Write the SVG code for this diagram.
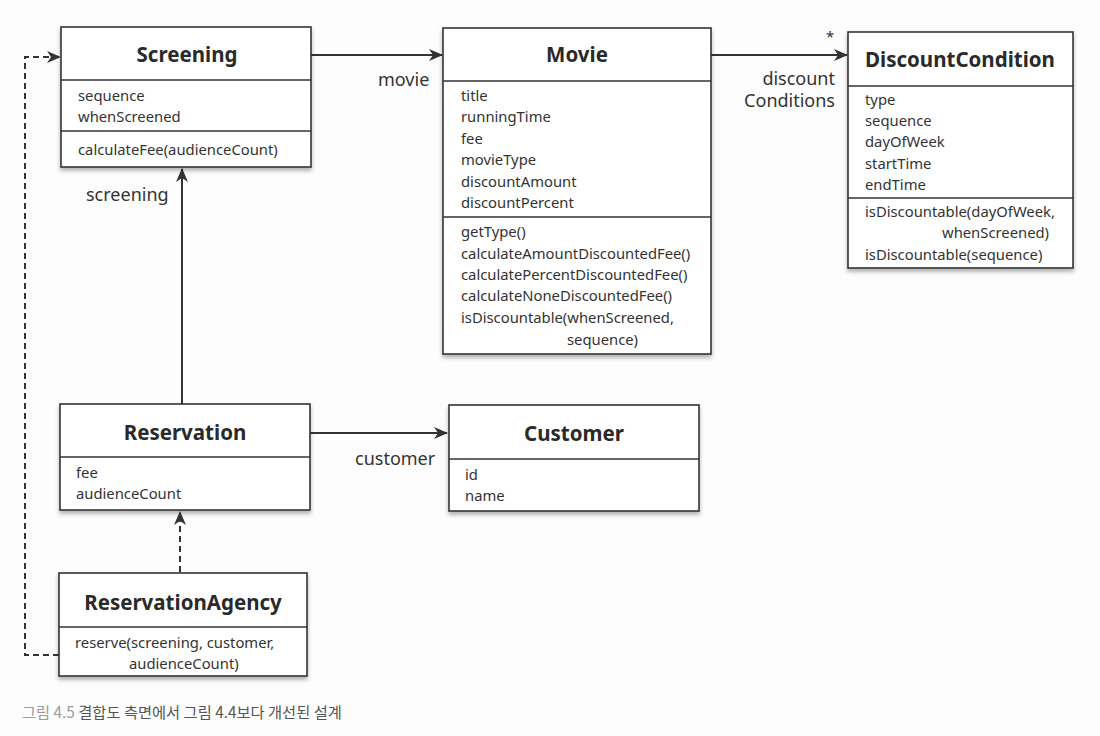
<svg xmlns="http://www.w3.org/2000/svg" width="1100" height="736" viewBox="0 0 1100 736">
<defs>
<style>
.box{fill:#fff;stroke:#333;stroke-width:1.6;filter:url(#sh)}
.div{stroke:#333;stroke-width:1.4}
.t{font-family:"Noto Sans","DejaVu Sans",sans-serif;font-size:20.5px;font-weight:bold;fill:#2a2a2a;text-anchor:middle}
.a{font-family:"Noto Sans","DejaVu Sans",sans-serif;font-size:14.8px;fill:#333}
.l{font-family:"Noto Sans","DejaVu Sans",sans-serif;font-size:18px;fill:#333}
.c{stroke:#333;stroke-width:2;fill:none}
.d{stroke:#333;stroke-width:2;fill:none;stroke-dasharray:6,4}
.cap{font-family:"Noto Sans CJK KR","Noto Sans",sans-serif;font-size:15.3px;fill:#555}
</style>
<filter id="sh" x="-10%" y="-10%" width="120%" height="130%">
<feDropShadow dx="0" dy="3" stdDeviation="2" flood-color="#000" flood-opacity="0.3"/>
</filter>
<marker id="arr" markerWidth="14" markerHeight="12" refX="13" refY="6" orient="auto" markerUnits="userSpaceOnUse">
<path d="M0,0 L14,6 L0,12 L4,6 z" fill="#333"/>
</marker>
</defs>
<rect width="1100" height="736" fill="#fdfdfd"/>

<g id="connectors">
<line class="c" x1="311" y1="55" x2="442" y2="55" marker-end="url(#arr)"/>
<line class="c" x1="711" y1="55" x2="847" y2="55" marker-end="url(#arr)"/>
<line class="c" x1="182" y1="404" x2="182" y2="169" marker-end="url(#arr)"/>
<line class="c" x1="310" y1="433" x2="447" y2="433" marker-end="url(#arr)"/>
<line class="d" x1="180" y1="572" x2="180" y2="512" marker-end="url(#arr)"/>
<polyline class="d" points="59,655 25,655 25,57 60,57" marker-end="url(#arr)"/>
<text class="l" x="378" y="86">movie</text>
<text class="l" x="835" y="85" text-anchor="end">discount</text>
<text class="l" x="835" y="107" text-anchor="end">Conditions</text>
<text class="a" x="826" y="42">*</text>
<text class="l" x="86" y="201">screening</text>
<text class="l" x="355" y="465">customer</text>
</g>

<g id="Screening">
<rect class="box" x="61" y="27" width="250" height="140"/>
<line class="div" x1="61" y1="80" x2="311" y2="80"/>
<line class="div" x1="61" y1="131" x2="311" y2="131"/>
<text class="t" x="187" y="62">Screening</text>
<text class="a" x="78" y="101">sequence</text>
<text class="a" x="78" y="122">whenScreened</text>
<text class="a" x="78" y="155">calculateFee(audienceCount)</text>
</g>

<g id="Movie">
<rect class="box" x="443" y="28" width="268" height="326"/>
<line class="div" x1="443" y1="81" x2="711" y2="81"/>
<line class="div" x1="443" y1="217" x2="711" y2="217"/>
<text class="t" x="577" y="62">Movie</text>
<text class="a" x="461" y="101">title</text>
<text class="a" x="461" y="122">runningTime</text>
<text class="a" x="461" y="144">fee</text>
<text class="a" x="461" y="165">movieType</text>
<text class="a" x="461" y="187">discountAmount</text>
<text class="a" x="461" y="208">discountPercent</text>
<text class="a" x="461" y="237">getType()</text>
<text class="a" x="461" y="259">calculateAmountDiscountedFee()</text>
<text class="a" x="461" y="280">calculatePercentDiscountedFee()</text>
<text class="a" x="461" y="301">calculateNoneDiscountedFee()</text>
<text class="a" x="461" y="323">isDiscountable(whenScreened,</text>
<text class="a" x="567" y="345">sequence)</text>
</g>

<g id="DiscountCondition">
<rect class="box" x="848" y="32" width="225" height="236"/>
<line class="div" x1="848" y1="86" x2="1073" y2="86"/>
<line class="div" x1="848" y1="198" x2="1073" y2="198"/>
<text class="t" x="960" y="67">DiscountCondition</text>
<text class="a" x="865" y="105">type</text>
<text class="a" x="865" y="126">sequence</text>
<text class="a" x="865" y="147">dayOfWeek</text>
<text class="a" x="865" y="169">startTime</text>
<text class="a" x="865" y="190">endTime</text>
<text class="a" x="865" y="217">isDiscountable(dayOfWeek,</text>
<text class="a" x="942" y="238">whenScreened)</text>
<text class="a" x="865" y="260">isDiscountable(sequence)</text>
</g>

<g id="Reservation">
<rect class="box" x="60" y="404" width="250" height="106"/>
<line class="div" x1="60" y1="457" x2="310" y2="457"/>
<text class="t" x="185" y="440">Reservation</text>
<text class="a" x="76" y="478">fee</text>
<text class="a" x="76" y="499">audienceCount</text>
</g>

<g id="Customer">
<rect class="box" x="449" y="405" width="250" height="106"/>
<line class="div" x1="449" y1="459" x2="699" y2="459"/>
<text class="t" x="574" y="441">Customer</text>
<text class="a" x="465" y="480">id</text>
<text class="a" x="465" y="501">name</text>
</g>

<g id="ReservationAgency">
<rect class="box" x="59" y="573" width="248" height="103"/>
<line class="div" x1="59" y1="627" x2="307" y2="627"/>
<text class="t" x="183" y="610">ReservationAgency</text>
<text class="a" x="75" y="648">reserve(screening, customer,</text>
<text class="a" x="129" y="669">audienceCount)</text>
</g>

<text class="cap" x="22" y="718"><tspan fill="#9a9a9a">그림 4.5</tspan> 결합도 측면에서 그림 4.4보다 개선된 설계</text>
</svg>
